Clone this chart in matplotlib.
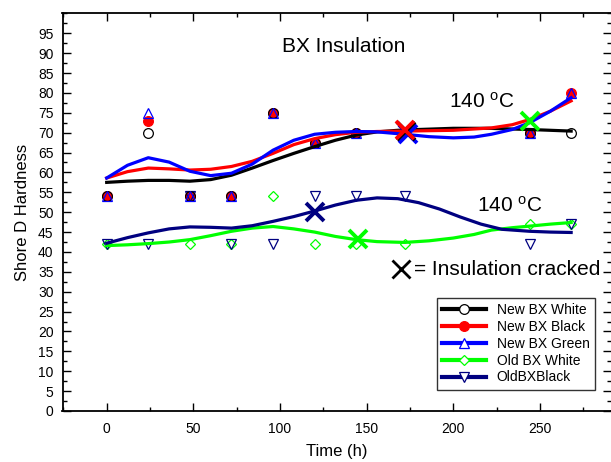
import numpy as np
import matplotlib
matplotlib.use('Agg')
import matplotlib.pyplot as plt
from matplotlib.ticker import MultipleLocator

plt.rcParams['font.family'] = ['Liberation Sans', 'DejaVu Sans']
plt.rcParams['mathtext.default'] = 'regular'

#---------measured points (Shore D vs time)-----------
t_new = [0, 24, 48, 72, 96, 120, 144, 244, 268]
new_white = [54, 70, 54, 54, 75, 67.5, 70, 70, 70]
new_black = [54, 73, 54, 54, 75, 67.5, 70, 70, 80]
new_green = [54, 75, 54, 54, 75, 67.5, 70, 70, 80]

t_old_white = [0, 48, 72, 96, 120, 144, 172, 244, 268]
old_white = [42, 42, 42, 54, 42, 42, 42, 47, 47]
t_old_black = [0, 24, 48, 72, 96, 120, 144, 172, 244, 268]
old_black = [42, 42, 54, 42, 42, 54, 54, 54, 42, 47]

#---------smooth fit curves-------------------------------
tc_white = [0, 12, 24, 36, 48, 60, 72, 84, 96, 108, 120, 132, 144, 156, 168, 180, 200, 220, 244, 268]
fit_white = [57.5, 57.8, 58.0, 58.0, 57.8, 58.2, 59.3, 61.1, 63.0, 64.8, 66.5, 68.1, 69.4, 70.2, 70.6, 70.8, 71.1, 71.1, 70.8, 70.4]
tc_black = [0, 12, 24, 36, 48, 60, 72, 84, 96, 108, 120, 132, 144, 156, 172, 200, 222, 234, 244, 256, 268]
fit_black = [58.6, 60.2, 61.1, 60.9, 60.6, 60.8, 61.5, 62.8, 64.8, 67.0, 68.5, 69.5, 70.1, 70.3, 70.4, 70.6, 71.2, 72.0, 73.3, 75.4, 78.0]
tc_green = [0, 12, 24, 36, 48, 60, 72, 84, 96, 108, 120, 132, 144, 156, 172, 186, 200, 212, 222, 234, 244, 256, 268]
fit_green = [58.6, 61.8, 63.7, 62.6, 60.3, 59.2, 59.8, 62.1, 65.6, 68.1, 69.6, 70.1, 70.3, 70.2, 69.6, 69.0, 68.7, 68.9, 69.6, 70.8, 72.5, 75.4, 78.8]
tc_old_black = [0, 12, 24, 36, 48, 60, 72, 84, 96, 108, 120, 132, 144, 156, 168, 180, 192, 204, 216, 228, 244, 256, 268]
fit_old_black = [42.2, 43.6, 44.8, 45.8, 46.3, 46.2, 46.0, 46.6, 47.7, 48.9, 50.3, 51.8, 53.0, 53.6, 53.4, 52.4, 50.8, 48.8, 47.0, 45.7, 45.2, 45.0, 44.9]
tc_old_white = [0, 12, 24, 36, 48, 60, 72, 84, 96, 108, 120, 132, 144, 156, 172, 186, 200, 212, 222, 234, 244, 256, 268]
fit_old_white = [41.6, 41.8, 42.1, 42.5, 43.1, 44.1, 45.2, 46.0, 46.4, 45.8, 45.0, 43.9, 43.1, 42.6, 42.4, 42.8, 43.5, 44.4, 45.5, 46.1, 46.5, 47.0, 47.4]

#---------insulation cracked points-----------
crack_t = [172, 172.5, 174, 244, 145, 120]
crack_y = [70.6, 70.3, 69.6, 72.9, 43.2, 50.0]
crack_col = ['red', 'black', 'blue', '#00FF00', '#00FF00', '#000080']

fig = plt.figure(figsize=(6.11, 4.62), dpi=100)
ax = fig.add_axes([62.5/611, (462-411)/462, 548.5/611, (411-13.4)/462])

series = [
    ('New BX White', 'black', 'o', 'white', t_new, new_white, tc_white, fit_white),
    ('New BX Black', 'red', 'o', 'red', t_new, new_black, tc_black, fit_black),
    ('New BX Green', 'blue', '^', 'white', t_new, new_green, tc_green, fit_green),
    ('Old BX White', '#00FF00', 'D', 'white', t_old_white, old_white, tc_old_white, fit_old_white),
    ('OldBXBlack', '#000080', 'v', 'white', t_old_black, old_black, tc_old_black, fit_old_black),
]

# open markers are hollow on the plot, so overlapping points show through
zs = {'New BX White': 3.2, 'New BX Black': 3.0, 'New BX Green': 3.3,
      'Old BX White': 3.0, 'OldBXBlack': 3.1}
handles = []
for name, col, mk, fc, tx, ty, cx, cy in series:
    ms = 5.5 if mk == 'D' else 7
    pfc = 'none' if fc == 'white' else fc
    ax.plot(tx, ty, ls='none', marker=mk, ms=ms, mfc=pfc, mec=col, mew=0.9, zorder=zs[name])
    ax.plot(cx, cy, color=col, lw=2.3, zorder=4)
    h, = ax.plot([], [], color=col, lw=3, marker=mk, ms=ms, mfc=fc, mec=col, mew=0.9)
    handles.append(h)

order = [2, 1, 0, 3, 4, 5]
for i in order:
    ax.plot(crack_t[i], crack_y[i], ls='none', marker='x', ms=13, mew=2.8,
            color=crack_col[i], zorder=6)

ax.set_xlim(-25.5, 291)
ax.set_ylim(0, 100)
ax.xaxis.set_major_locator(MultipleLocator(50))
ax.xaxis.set_minor_locator(MultipleLocator(25))
ax.yaxis.set_major_locator(MultipleLocator(5))
ax.yaxis.set_minor_locator(MultipleLocator(2.5))
ax.tick_params(which='both', direction='in', top=True, right=True, width=1)
ax.tick_params(which='major', length=6)
ax.tick_params(which='minor', length=3)
ax.tick_params(axis='x', which='major', pad=8, labelsize=10)
ax.tick_params(axis='y', which='major', pad=6.5, labelsize=10)
ax.set_yticks(np.arange(0, 100, 5))
for s in ax.spines.values():
    s.set_linewidth(1.3)
ax.spines['right'].set_visible(False)

ax.set_xlabel('Time (h)', fontsize=12, labelpad=6)
ax.set_ylabel('Shore D Hardness', fontsize=12, labelpad=6)

ax.text(0.513, 0.918, 'BX Insulation', transform=ax.transAxes, fontsize=15,
        ha='center', va='center')
ax.text(0.705, 0.778, '140 $^{o}$C', transform=ax.transAxes, fontsize=15,
        ha='left', va='center')
ax.text(0.755, 0.517, '140 $^{o}$C', transform=ax.transAxes, fontsize=15,
        ha='left', va='center')
ax.plot([0.618], [0.356], transform=ax.transAxes, marker='x', ms=13, mew=2,
        color='black', ls='none', clip_on=False)
ax.text(0.641, 0.355, '= Insulation cracked', transform=ax.transAxes,
        fontsize=15, ha='left', va='center')

leg = ax.legend(handles, [s[0] for s in series], loc='lower right',
                bbox_to_anchor=(0.971, 0.053), fontsize=10, frameon=True,
                fancybox=False, edgecolor='black', handlelength=3.1,
                handletextpad=0.8, labelspacing=0.2, borderpad=0.4,
                borderaxespad=0)
leg.get_frame().set_linewidth(1)
leg.set_zorder(10)

fig.savefig('out.png', dpi=100)
